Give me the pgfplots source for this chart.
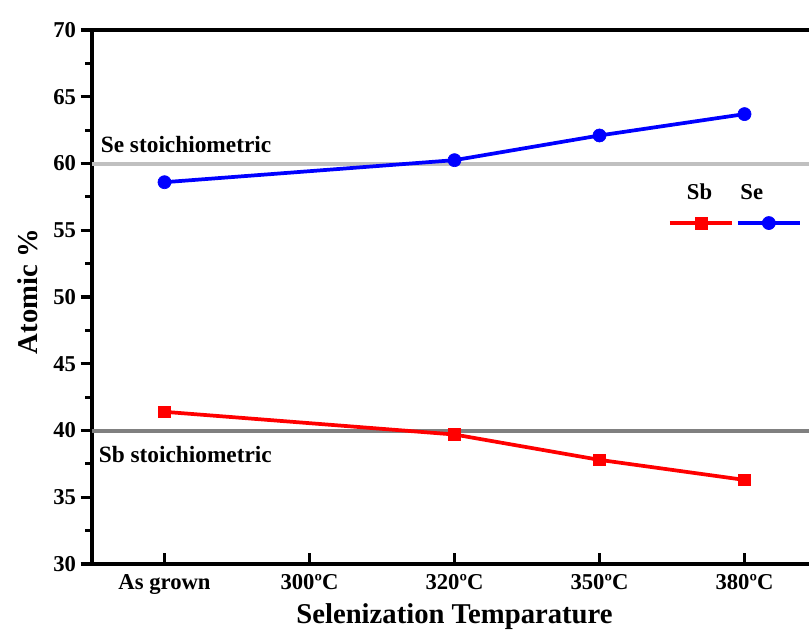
\documentclass[border=0pt]{standalone}
\usepackage{fontspec}
\setmainfont{Liberation Serif}
\usepackage{pgfplots}
\pgfplotsset{compat=1.18}
\usetikzlibrary{calc}
\definecolor{sbred}{RGB}{255,0,0}
\definecolor{seblue}{RGB}{0,0,255}
\definecolor{stoichlight}{RGB}{192,192,192}
\definecolor{stoichdark}{RGB}{128,128,128}

\begin{document}
\begin{tikzpicture}
\begin{axis}[
    name=ax,
    scale only axis,
    width=543.75pt, height=400.5pt,
    xmin=-0.5, xmax=4.5,
    ymin=30, ymax=70,
    xtick={0,1,2,3,4},
    xticklabels={As grown,300ºC,320ºC,350ºC,380ºC},
    ytick={30,35,...,70},
    minor y tick num=1,
    tick pos=left,
    tick align=inside,
    major tick length=8.5pt,
    minor tick length=5pt,
    major y tick style={xshift=-8.5pt},
    minor y tick style={xshift=-5pt},
    tick style={black, line width=2.3pt},
    axis line style={line width=2.8pt},
    /pgf/number format/assume math mode=true,
    ticklabel style={font=\fontsize{17}{19}\selectfont\bfseries},
    yticklabel style={xshift=-8.5pt},
    xticklabel style={yshift=-4pt},
    xlabel={Selenization Temparature},
    ylabel={Atomic \%},
    label style={font=\fontsize{21.5}{24}\selectfont\bfseries},
    ylabel style={xshift=4pt, yshift=5pt},
    clip=false,
    legend columns=2,
    legend style={draw=none, fill=none, at={(axis cs:3.47,55.54)}, anchor=west,
        column sep=0pt, inner sep=0pt, row sep=0pt, nodes={inner sep=0pt}},
    legend image code/.code={
        \draw[mark repeat=2,mark phase=2] plot coordinates {(0pt,0pt)(23.5pt,0pt)(47pt,0pt)};
    },
]

% stoichiometric reference lines
\addplot[draw=stoichlight, line width=3pt, forget plot] coordinates {(-0.5,60)(4.5,60)};
\addplot[draw=stoichdark, line width=3pt, forget plot] coordinates {(-0.5,40)(4.5,40)};

\addplot[sbred, line width=2.8pt, mark=square*, mark size=4.4pt, mark options={solid, line width=0.5pt}]
    coordinates {(0,41.4)(2,39.7)(3,37.8)(4,36.3)};
\addlegendentry{}
\addplot[seblue, line width=2.8pt, mark=*, mark size=4.9pt, mark options={solid, line width=0.5pt}]
    coordinates {(0,58.6)(2,60.25)(3,62.1)(4,63.7)};
\addlegendentry{}

\node[anchor=base west, inner sep=0pt, font=\fontsize{17.5}{20}\selectfont\bfseries]
    at (axis cs:-0.441,60.86) {Se stoichiometric};
\node[anchor=base west, inner sep=0pt, font=\fontsize{17.5}{20}\selectfont\bfseries]
    at (axis cs:-0.455,37.57) {Sb stoichiometric};
\node[anchor=base, font=\fontsize{17}{19}\selectfont\bfseries]
    at (axis cs:3.69,57.27) {Sb};
\node[anchor=base, font=\fontsize{17}{19}\selectfont\bfseries]
    at (axis cs:4.05,57.27) {Se};
\end{axis}
\pgfresetboundingbox
\path ($(ax.south west)+(-69pt,-54.75pt)$) rectangle ($(ax.south west)+(537.75pt,423pt)$);
\end{tikzpicture}
\end{document}
